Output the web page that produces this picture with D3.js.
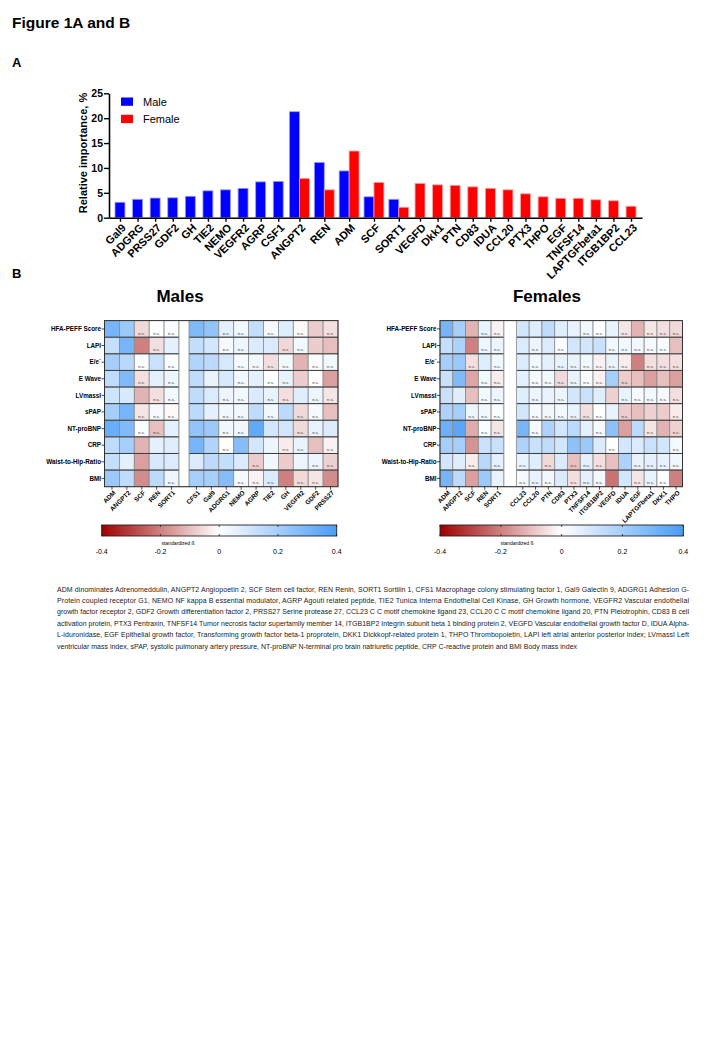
<!DOCTYPE html>
<html><head><meta charset="utf-8">
<script src="https://cdn.jsdelivr.net/npm/d3@7"></script>
<style>body{margin:0;background:#fff}svg{display:block}</style>
</head><body>
<script>
// ---------- Panel A data ----------
const barCategories = ["Gal9","ADGRG","PRSS27","GDF2","GH","TIE2","NEMO","VEGFR2","AGRP","CSF1","ANGPT2","REN","ADM","SCF","SORT1","VEGFD","Dkk1","PTN","CD83","IDUA","CCL20","PTX3","THPO","EGF","TNFSF14","LAPTGFbeta1","ITGB1BP2","CCL23"];
const maleImportance = [3.1,3.7,3.95,4.0,4.3,5.4,5.6,5.9,7.2,7.3,21.3,11.1,9.4,4.2,3.7,null,null,null,null,null,null,null,null,null,null,null,null,null];
const femaleImportance = [null,null,null,null,null,null,null,null,null,null,7.9,5.6,13.4,7.1,2.1,6.9,6.6,6.5,6.2,5.9,5.6,4.8,4.2,3.9,3.9,3.6,3.4,2.3];
const yTicks = [0,5,10,15,20,25];
const seriesNames = ["Male","Female"];

// ---------- Panel B data ----------
const rowLabels = ["HFA-PEFF Score","LAPI","E/e´","E Wave","LVmassI","sPAP","NT-proBNP","CRP","Waist-to-Hip-Ratio","BMI"];
const maleColsA = ["ADM","ANGPT2","SCF","REN","SORT1"];
const maleColsB = ["CFS1","Gal9","ADGRG1","NEMO","AGRP","TIE2","GH","VEGFR2","GDF2","PRSS27"];
const maleBeta = [
 [0.30,0.22,-0.06,0.00,0.01, 0.28,0.24,0.06,0.03,0.13,0.02,0.07,-0.01,-0.08,-0.05],
 [0.13,0.30,-0.20,-0.05,0.06, 0.13,0.10,0.02,0.04,0.08,0.08,-0.06,0.03,-0.08,-0.10],
 [0.20,0.16,0.01,0.12,0.01, 0.17,0.15,0.09,0.02,0.03,-0.05,0.03,-0.12,0.01,0.03],
 [0.14,0.28,-0.05,0.06,0.04, 0.14,0.05,0.09,0.03,0.06,0.00,0.05,-0.08,0.00,-0.15],
 [0.11,0.09,-0.12,-0.05,0.03, 0.14,0.08,0.04,0.03,0.08,0.05,-0.05,0.07,0.04,-0.04],
 [0.20,0.30,-0.04,0.02,-0.01, 0.15,0.06,0.03,0.03,0.14,0.03,0.15,-0.06,0.02,-0.10],
 [0.33,0.28,0.01,-0.10,0.06, 0.24,0.22,0.03,0.03,0.35,0.10,0.10,-0.06,0.05,0.08],
 [0.14,0.20,-0.12,0.06,0.07, 0.30,0.17,0.00,0.27,0.10,0.04,-0.03,0.05,-0.10,-0.02],
 [0.13,0.06,-0.15,0.09,0.08, 0.08,0.15,0.13,0.08,-0.08,0.03,-0.08,0.04,0.04,-0.07],
 [0.22,0.14,-0.18,0.15,0.04, 0.20,0.20,0.27,0.02,-0.02,0.08,-0.20,-0.06,-0.04,-0.18]
];
const maleNS = [
 [0,0,1,1,1, 0,0,1,1,0,1,0,1,0,1],
 [0,0,0,1,0, 0,0,1,1,0,0,1,1,0,0],
 [0,0,1,0,1, 0,0,0,1,1,1,1,0,1,1],
 [0,0,1,0,1, 0,0,0,1,0,1,1,0,1,0],
 [0,0,0,1,1, 0,0,1,1,0,1,1,0,1,1],
 [0,0,1,1,1, 0,0,1,1,0,1,0,1,1,0],
 [0,0,1,1,0, 0,0,1,1,0,0,0,1,1,0],
 [0,0,0,0,0, 0,0,1,0,0,0,1,1,0,1],
 [0,0,0,0,0, 0,0,0,0,1,0,0,0,1,1],
 [0,0,0,0,1, 0,0,0,1,1,1,0,1,1,0]
];
const femaleColsA = ["ADM","ANGPT2","SCF","REN","SORT1"];
const femaleColsB = ["CCL23","CCL20","PTN","CD83","PTX3","TNFSF14","ITGB1BP2","VEGFD","IDUA","EGF","LAPTGFbeta1","DKK1","THPO"];
const femaleBeta = [
 [0.30,0.20,-0.12,0.05,-0.02, 0.10,0.07,0.14,0.07,0.05,0.03,0.00,0.05,-0.04,-0.12,-0.04,-0.05,-0.06],
 [0.13,0.18,-0.20,0.04,0.04, 0.08,0.04,0.08,0.01,0.10,0.10,0.12,0.03,0.03,0.03,0.02,0.01,-0.10],
 [0.20,0.22,-0.05,0.07,0.03, 0.08,0.03,0.06,0.05,0.05,0.03,-0.02,0.05,-0.03,-0.20,-0.05,-0.05,-0.05],
 [0.12,0.28,-0.14,0.03,-0.03, 0.06,0.02,0.03,-0.06,0.05,0.01,-0.02,0.20,-0.08,-0.10,-0.15,-0.10,-0.15],
 [0.12,0.07,-0.10,0.03,0.04, 0.07,0.04,0.05,0.04,0.10,0.12,0.07,-0.07,0.05,0.02,0.03,0.02,-0.05],
 [0.18,0.20,0.04,0.03,0.01, 0.10,0.02,0.03,0.03,0.05,-0.05,0.00,0.05,-0.08,-0.10,-0.07,-0.08,-0.03],
 [0.32,0.36,-0.13,0.01,-0.04, 0.30,0.02,0.18,0.10,0.15,0.06,0.02,0.25,-0.15,0.15,-0.04,-0.12,-0.07],
 [0.20,0.20,-0.17,0.12,0.12, 0.18,0.12,0.14,0.10,0.25,0.22,0.08,0.00,0.10,0.08,0.12,0.10,0.02],
 [0.10,0.07,-0.03,0.16,0.06, 0.05,0.07,-0.06,0.08,-0.10,0.06,-0.05,-0.10,0.18,0.05,0.06,0.05,0.03],
 [0.30,0.15,-0.15,0.22,0.05, 0.02,0.05,0.03,0.08,-0.05,0.06,0.03,-0.22,0.10,-0.04,0.05,0.00,-0.20]
];
const femaleNS = [
 [0,0,0,1,1, 0,0,0,0,0,1,1,0,1,0,1,1,1],
 [0,0,0,1,1, 0,1,0,1,0,0,0,1,1,1,1,1,0],
 [0,0,1,0,1, 0,1,0,1,1,1,1,1,1,0,1,1,1],
 [0,0,0,1,1, 0,1,1,1,1,1,1,0,1,0,0,0,0],
 [0,0,0,1,1, 0,1,0,1,0,0,0,0,1,1,1,1,1],
 [0,0,1,1,1, 0,1,1,1,1,1,1,0,1,0,0,0,1],
 [0,0,0,1,1, 0,1,0,0,0,0,1,0,0,0,1,0,1],
 [0,0,0,0,0, 0,0,0,0,0,0,0,1,0,0,0,0,1],
 [0,0,1,0,1, 1,0,1,0,1,1,1,0,0,1,1,1,1],
 [0,0,0,0,0, 1,1,1,0,1,1,1,0,0,1,1,1,0]
];
const colorbarTicks = [-0.4,-0.2,0,0.2,0.4];

const captionLines = [
 "ADM  dinominates Adrenomeddulin, ANGPT2 Angiopoetin 2, SCF Stem cell factor, REN Renin, SORT1 Sortilin 1, CFS1 Macrophage colony stimulating factor 1, Gal9 Galectin 9, ADGRG1 Adhesion G-",
 "Protein coupled receptor G1, NEMO NF kappa B essential modulator, AGRP Agouti related peptide, TIE2 Tunica Interna Endothelial Cell Kinase, GH Growth hormone, VEGFR2 Vascular endothelial",
 "growth factor receptor 2, GDF2 Growth differentiation factor 2, PRSS27 Serine protease 27, CCL23 C C motif chemokine ligand 23, CCL20 C C motif chemokine ligand 20, PTN Pleiotrophin, CD83 B cell",
 "activation protein, PTX3 Pentraxin, TNFSF14 Tumor necrosis factor superfamily member 14, ITGB1BP2 Integrin subunit beta 1 binding protein 2, VEGFD Vascular endothelial growth factor D, IDUA Alpha-",
 "L-iduronidase, EGF Epithelial growth factor, Transforming growth factor beta-1 proprotein, DKK1 Dickkopf-related protein 1, THPO Thrombopoietin, LAPI left atrial anterior posterior index; LVmassI Left",
 "ventricular mass index, sPAP, systolic pulmonary artery pressure, NT-proBNP N-terminal pro brain natriuretic peptide, CRP C-reactive protein and BMI Body mass index"
];

// ---------- drawing ----------
const FONT = "'Liberation Sans', Arial, sans-serif";
const svg = d3.select("body").append("svg").attr("width",720).attr("height",1040)
  .style("font-family", FONT);

svg.append("text").attr("x",12).attr("y",28).attr("font-size",15.5).attr("font-weight","bold").text("Figure 1A and B");
svg.append("text").attr("x",12).attr("y",67).attr("font-size",13).attr("font-weight","bold").text("A");
svg.append("text").attr("x",12).attr("y",278).attr("font-size",13).attr("font-weight","bold").text("B");

// ---- Panel A ----
const maleColor = "#0000ff", femaleColor = "#ff0000";
const barData = barCategories.map((c,i)=>({cat:c, m:maleImportance[i], f:femaleImportance[i]}));
barData.forEach(d=>{ d.n = (d.m!=null) + (d.f!=null); d.w = d.n===1 ? 1.77 : 2.5; });
let acc = 0.22;
barData.forEach(d=>{ d.start = acc; d.center = acc + d.w/2; acc += d.w; });
const totalUnits = acc + 0.22;
const xA = d3.scaleLinear().domain([0,totalUnits]).range([109,642]);
const yA = d3.scaleLinear().domain([0,25]).range([217.7,93.3]);
const unitPx = xA(1)-xA(0);

const gA = svg.append("g");
barData.forEach(d=>{
  const bars = [];
  if (d.n===2){ bars.push({v:d.m,c:maleColor,x:d.center-1}); bars.push({v:d.f,c:femaleColor,x:d.center}); }
  else if (d.m!=null) bars.push({v:d.m,c:maleColor,x:d.center-0.5});
  else bars.push({v:d.f,c:femaleColor,x:d.center-0.5});
  bars.forEach(b=>{
    gA.append("rect").attr("x",xA(b.x)).attr("width",unitPx)
      .attr("y",yA(b.v)).attr("height",yA(0)-yA(b.v))
      .attr("fill",b.c).attr("stroke", b.c===maleColor? "#9a9aff":"#ffa0a0").attr("stroke-width",0.8);
  });
});
const yAxis = gA.append("g").attr("transform","translate(109,0)")
  .call(d3.axisLeft(yA).tickValues(yTicks).tickSize(5).tickSizeOuter(0));
yAxis.select(".domain").attr("stroke","#000").attr("stroke-width",1.6);
yAxis.selectAll(".tick line").attr("stroke","#000").attr("stroke-width",1.4);
yAxis.selectAll(".tick text").attr("font-size",10.5).attr("font-weight","bold").attr("font-family",FONT).attr("fill","#000").attr("x",-6);
const xAxis = gA.append("g").attr("transform",`translate(0,${yA(0)})`)
  .call(d3.axisBottom(xA).tickValues(barData.map(d=>d.center)).tickSize(4).tickSizeOuter(0).tickFormat(()=>""));
xAxis.select(".domain").attr("stroke","#000").attr("stroke-width",1.6);
xAxis.selectAll(".tick line").attr("stroke","#000").attr("stroke-width",1.4);
barData.forEach(d=>{
  gA.append("text").attr("transform",`translate(${xA(d.center)+4},${yA(0)+8}) rotate(-45)`)
    .attr("text-anchor","end").attr("font-size",11).attr("font-weight","bold").attr("dy","0.35em").text(d.cat);
});
gA.append("text").attr("transform","translate(87,153) rotate(-90)").attr("text-anchor","middle")
  .attr("font-size",11).attr("font-weight","bold").text("Relative importance, %");
[maleColor,femaleColor].forEach((c,i)=>{
  gA.append("rect").attr("x",121).attr("y",97.5+i*17.3).attr("width",12).attr("height",8.3).attr("fill",c);
  gA.append("text").attr("x",143).attr("y",101.7+i*17.3).attr("dy","0.35em").attr("font-size",11).text(seriesNames[i]);
});

// ---- Panel B ----
const color = d3.scaleLinear().domain([-0.4,0,0.4]).range(["#9e0000","#ffffff","#4a9cf6"]);
const defs = svg.append("defs");
const grad = defs.append("linearGradient").attr("id","cbgrad");
d3.range(0,1.0001,0.05).forEach(t=>{
  grad.append("stop").attr("offset",t).attr("stop-color",color(-0.4+0.8*t));
});

function drawHeatmap(o){
  const g = svg.append("g");
  const nA = o.colsA.length, nB = o.colsB.length, n = nA+nB;
  const colW = (o.x1-o.x0-o.gap)/n;
  const gapU = o.gap/colW;
  const xs = d3.scaleLinear().domain([0,n+gapU]).range([o.x0,o.x1]);
  const colPos = i => i + (i>=nA ? gapU : 0);
  const cols = o.colsA.concat(o.colsB);
  const ys = d3.scaleBand().domain(rowLabels).range([320.6,486.7]);
  const top = ys.range()[0], bot = ys.range()[1];
  g.append("text").attr("x",o.titleX).attr("y",302).attr("text-anchor","middle")
    .attr("font-size",17).attr("font-weight","bold").text(o.title);
  rowLabels.forEach((r,ri)=>{
    cols.forEach((c,ci)=>{
      const x = xs(colPos(ci)), w = xs(colPos(ci)+1)-x;
      g.append("rect").attr("x",x).attr("y",ys(r)).attr("width",w).attr("height",ys.bandwidth())
        .attr("fill",color(o.values[ri][ci])).attr("stroke","#8a8a8a").attr("stroke-width",0.8);
      if (o.ns[ri][ci]) g.append("text").attr("x",x+w/2).attr("y",ys(r)+ys.bandwidth()-2.6)
        .attr("text-anchor","middle").attr("font-size",4.3).attr("fill","#333").text("n.s.");
    });
  });
  const secs = [[xs(0),xs(nA)],[xs(nA+gapU),xs(n+gapU)]];
  rowLabels.forEach((r,ri)=>{ if(ri===0) return;
    secs.forEach(s=>g.append("line").attr("x1",s[0]).attr("x2",s[1]).attr("y1",ys(r)).attr("y2",ys(r)).attr("stroke","#333").attr("stroke-width",0.9));
  });
  g.append("rect").attr("x",xs(nA)).attr("y",top).attr("width",xs(nA+gapU)-xs(nA)).attr("height",bot-top)
    .attr("fill","#fff").attr("stroke","#999").attr("stroke-width",0.9);
  g.append("rect").attr("x",o.x0).attr("y",top).attr("width",o.x1-o.x0).attr("height",bot-top)
    .attr("fill","none").attr("stroke","#333").attr("stroke-width",1);
  rowLabels.forEach(r=>{
    const cy = ys(r)+ys.bandwidth()/2;
    g.append("line").attr("x1",o.x0-3).attr("x2",o.x0).attr("y1",cy).attr("y2",cy).attr("stroke","#000").attr("stroke-width",0.7);
    g.append("text").attr("x",o.x0-3.5).attr("y",cy).attr("dy","0.35em").attr("text-anchor","end")
      .attr("font-size",6.3).attr("font-weight","bold").text(r);
  });
  cols.forEach((c,ci)=>{
    const cx = xs(colPos(ci)+0.5);
    g.append("line").attr("x1",cx).attr("x2",cx).attr("y1",bot).attr("y2",bot+3).attr("stroke","#000").attr("stroke-width",0.7);
    g.append("text").attr("transform",`translate(${cx+2.5},${bot+5}) rotate(-45)`).attr("text-anchor","end")
      .attr("dy","0.35em").attr("font-size",6.4).attr("font-weight","bold").text(c);
  });
  const cb = d3.scaleLinear().domain([-0.4,0.4]).range([o.cb0,o.cb1]);
  g.append("rect").attr("x",o.cb0).attr("y",525).attr("width",o.cb1-o.cb0).attr("height",11)
    .attr("fill","url(#cbgrad)").attr("stroke","#222").attr("stroke-width",0.9);
  colorbarTicks.forEach(t=>{
    g.append("line").attr("x1",cb(t)).attr("x2",cb(t)).attr("y1",525).attr("y2",527).attr("stroke","#222").attr("stroke-width",0.8);
    g.append("line").attr("x1",cb(t)).attr("x2",cb(t)).attr("y1",534).attr("y2",536).attr("stroke","#222").attr("stroke-width",0.8);
    g.append("text").attr("x",cb(t)).attr("y",552).attr("dy","0.35em").attr("text-anchor","middle")
      .attr("font-size",7).text(String(t));
  });
  g.append("text").attr("x",o.sbX).attr("y",543).attr("dy","0.35em").attr("text-anchor","middle")
    .attr("font-size",5).text("standardized ß");
}

drawHeatmap({title:"Males",titleX:180,x0:104.5,x1:338,gap:10,colsA:maleColsA,colsB:maleColsB,values:maleBeta,ns:maleNS,cb0:101.7,cb1:336.7,sbX:178});
drawHeatmap({title:"Females",titleX:547,x0:440,x1:682.5,gap:12.5,colsA:femaleColsA,colsB:femaleColsB,values:femaleBeta,ns:femaleNS,cb0:440,cb1:683.3,sbX:517});

const cap = svg.append("g");
captionLines.forEach((l,i)=>{
  const t = cap.append("text").attr("x",57).attr("y",591.5+i*11.4).attr("font-size",7).attr("fill","#222").text(l);
  if (i < captionLines.length-1) t.attr("textLength",632).attr("lengthAdjust","spacing");
});
</script>
</body></html>
